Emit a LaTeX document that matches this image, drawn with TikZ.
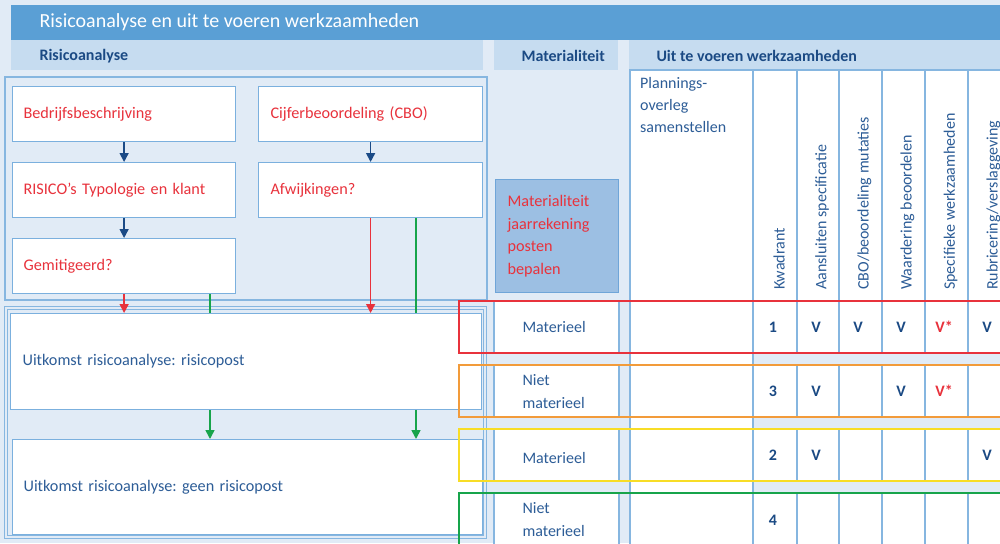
\documentclass[tikz,border=0pt]{standalone}
\usepackage{fontspec}
\setmainfont{Carlito}
\usetikzlibrary{arrows.meta}
\definecolor{bgc}{HTML}{E1EBF6}
\definecolor{titlec}{HTML}{5A9FD5}
\definecolor{headc}{HTML}{C6DCF0}
\definecolor{linec}{HTML}{86B6E0}
\definecolor{boxc}{HTML}{7BB0DE}
\definecolor{matfill}{HTML}{9CBFE3}
\definecolor{matline}{HTML}{6FA5D8}
\definecolor{navy}{HTML}{1B4A84}
\definecolor{txtc}{HTML}{2D5D97}
\definecolor{redc}{HTML}{E8323C}
\definecolor{arrblue}{HTML}{1A4A86}
\definecolor{greenc}{HTML}{17A44B}
\definecolor{orangec}{HTML}{F29B3A}
\definecolor{yellowc}{HTML}{F8DD26}
\frenchspacing
\begin{document}
\begin{tikzpicture}[x=1pt,y=-1pt,
  rbox/.style={draw=boxc, fill=white, line width=1.2pt, anchor=north west, align=left,
    inner xsep=11pt, inner ysep=0pt, minimum height=55pt, text=redc, font=\fontsize{16.2}{19}\selectfont},
  obox/.style={rbox, text=txtc},
  hdr/.style={anchor=west, text=navy, font=\bfseries\fontsize{16}{18}\selectfont},
  rot/.style={rotate=90, anchor=west, text=txtc, font=\fontsize{16}{18}\selectfont, inner sep=0pt},
  celltxt/.style={anchor=west, text=txtc, align=left, font=\fontsize{16}{23}\selectfont},
  num/.style={text=navy, font=\bfseries\fontsize{16}{18}\selectfont},
  vmark/.style={text=navy, font=\bfseries\fontsize{16}{18}\selectfont},
  vstar/.style={text=redc, font=\bfseries\fontsize{16}{18}\selectfont},
  cell/.style={draw=linec, fill=white, line width=1.4pt},
  tip/.style={-{Triangle[width=9pt,length=9pt]}},
  barr/.style={tip, draw=arrblue, fill=arrblue, line width=1.6pt},
  rarr/.style={tip, draw=redc, fill=redc, line width=1.6pt},
  garr/.style={tip, draw=greenc, fill=greenc, line width=1.6pt},
  gline/.style={draw=greenc, line width=1.6pt},
  rowbox/.style={line width=2pt}
]
\clip (0,0) rectangle (1000,543);
\fill[bgc] (0,0) rectangle (1000,543);
% title and headers
\fill[titlec] (11,5) rectangle (1010,40);
\node[anchor=west, text=white, font=\fontsize{20}{23}\selectfont] (title) at (36,22.5) {Risicoanalyse en uit te voeren werkzaamheden};
\fill[headc] (11,40) rectangle (483,70);
\fill[headc] (494,40) rectangle (618,70);
\fill[headc] (629,40) rectangle (1010,70);
\node[hdr] (h1) at (36,56) {Risicoanalyse};
\node[hdr] (h2) at (518,56) {Materialiteit};
\node[hdr] (h3) at (653,56) {Uit te voeren werkzaamheden};
% outer boxes
\draw[linec, line width=2pt, fill=bgc] (5,77) rectangle (487,300);
\draw[linec, line width=1.5pt] (4.5,306.5) rectangle (486.5,538.5);
\draw[linec, line width=1.5pt] (7.5,309.5) rectangle (483.5,535.5);
% flow nodes
\node[rbox, text width=201pt] (bedr) at (12,86) {Bedrijfsbeschrijving};
\node[rbox, text width=200pt, inner xsep=12pt] (cijf) at (258,86) {Cijferbeoordeling (CBO)};
\node[rbox, text width=201pt] (ris) at (12,162) {RISICO’s Typologie en klant};
\node[rbox, text width=200pt, inner xsep=12pt] (afw) at (258,162) {Afwijkingen?};
\node[rbox, text width=201pt] (gem) at (12,238) {Gemitigeerd?};
\node[obox, text width=447pt, inner xsep=12pt, minimum height=96pt] (post) at (10,313) {Uitkomst risicoanalyse: risicopost};
\node[obox, text width=448pt, minimum height=95pt] (geen) at (12,439) {Uitkomst risicoanalyse: geen risicopost};
% connectors
\coordinate (gx1) at (210,0);
\coordinate (gx2) at (416,0);
\draw[barr] (bedr.south) -- (ris.north);
\draw[barr] (ris.south) -- (gem.north);
\draw[barr] (cijf.south) -- (afw.north);
\draw[rarr] (gem.south) -- (gem.south |- post.north);
\draw[rarr] (afw.south) -- (afw.south |- post.north);
\draw[gline] (gem.south -| gx1) -- (post.north -| gx1);
\draw[garr] (post.south -| gx1) -- (geen.north -| gx1);
\draw[gline] (afw.south -| gx2) -- (post.north -| gx2);
\draw[garr] (post.south -| gx2) -- (geen.north -| gx2);
% materialiteit box
\node[draw=matline, fill=matfill, line width=1.2pt, anchor=north west, minimum width=123pt,
  minimum height=113pt, text width=99pt, inner xsep=12pt, align=left, text=redc,
  font=\fontsize{16.2}{22.7}\selectfont] (mat) at (495,179) {Materialiteit\\jaarrekening\\posten\\bepalen};
% table
\draw[cell] (630,70) rectangle (753,560);
\node[anchor=north west, text=txtc, align=left, text width=110pt, inner sep=0pt,
  font=\fontsize{16}{22}\selectfont] (plan) at (640,77) {Plannings-\\overleg\\samenstellen};
\foreach \xa/\xb in {753/797, 797/839, 839/882, 882/925, 925/968, 968/1011}{
  \draw[cell] (\xa,70) rectangle (\xb,301);
  \foreach \ya/\yb in {301/353, 365/417, 429/481, 493/560}{
    \draw[cell] (\xa,\ya) rectangle (\xb,\yb);
  }
}
\foreach \ya/\yb in {301/353, 365/417, 429/481, 493/560}{
  \draw[cell] (494,\ya) rectangle (619,\yb);
}
% rotated headers
\node[rot] (c1) at (779,290) {Kwadrant};
\node[rot] (c2) at (822,290) {Aansluiten specificatie};
\node[rot] (c3) at (864.5,290) {CBO/beoordeling mutaties};
\node[rot] (c4) at (907.5,290) {Waardering beoordelen};
\node[rot] (c5) at (950.5,290) {Specifieke werkzaamheden};
\node[rot] (c6) at (993.5,290) {Rubricering/verslaggeving};
% row texts
\node[celltxt] (m1) at (519,327) {Materieel};
\node[celltxt] (m2) at (519,392) {Niet\\materieel};
\node[celltxt] (m3) at (519,458) {Materieel};
\node[celltxt] (m4) at (519,519.5) {Niet\\materieel};
\node[num] (k1) at (773,327) {1};
\node[num] (k3) at (773,391) {3};
\node[num] (k2) at (773,455) {2};
\node[num] (k4) at (773,520) {4};
% row 1
\node[vmark] (v11) at (816,327) {V};
\node[vmark] (v12) at (858,327) {V};
\node[vmark] (v13) at (901,327) {V};
\node[vstar] (v14) at (944,327) {V*};
\node[vmark] (v15) at (987,327) {V};
% row 2
\node[vmark] (v21) at (816,391) {V};
\node[vmark] (v23) at (901,391) {V};
\node[vstar] (v24) at (944,391) {V*};
% row 3
\node[vmark] (v31) at (816,455) {V};
\node[vmark] (v35) at (987,455) {V};
% coloured row frames
\draw[rowbox, redc] (459,301) rectangle (1010,353);
\draw[rowbox, orangec] (459,365) rectangle (1010,417);
\draw[rowbox, yellowc] (459,429) rectangle (1010,481);
\draw[rowbox, greenc] (459,493) rectangle (1010,560);
\end{tikzpicture}
\end{document}
